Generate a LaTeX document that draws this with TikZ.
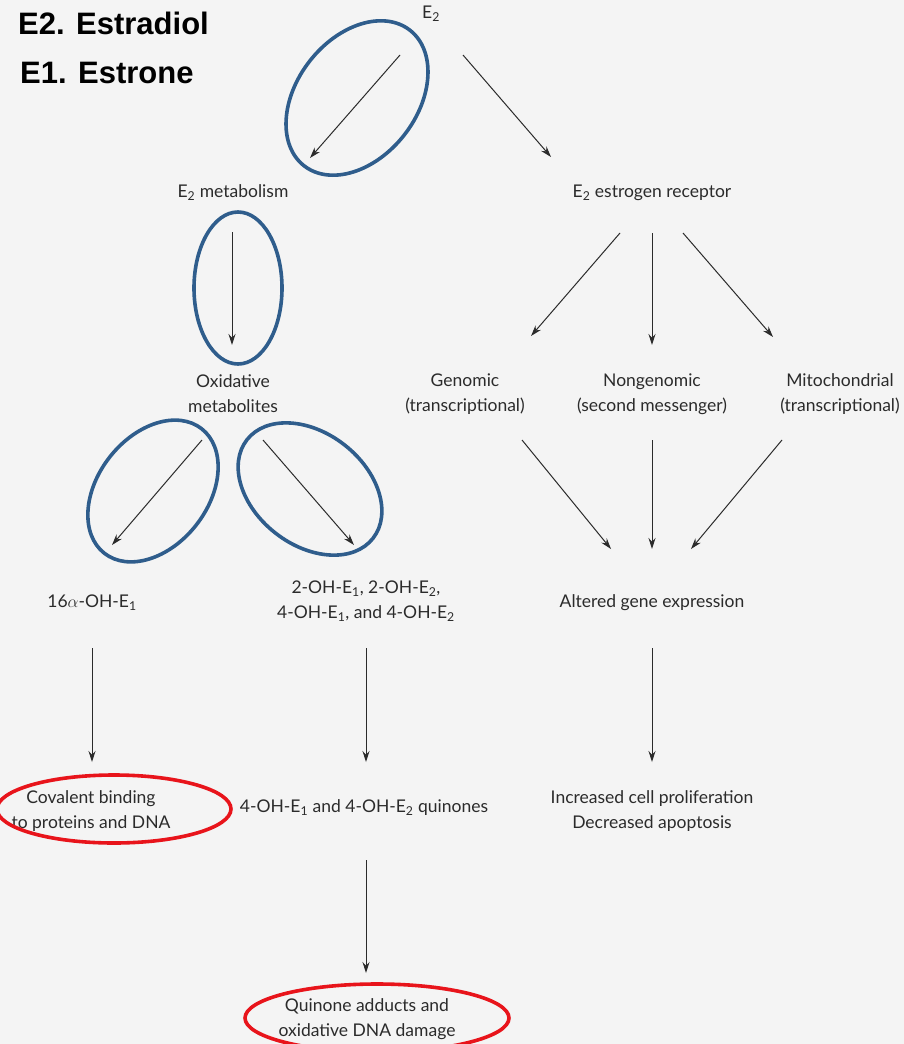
\documentclass[tikz,border=0pt]{standalone}
\usepackage{fontspec}
\setmainfont{Lato}
\newfontfamily\titlefont{Liberation Sans}
\usetikzlibrary{arrows.meta}
\definecolor{bg}{HTML}{F4F4F4}
\definecolor{ovalblue}{HTML}{2F5D8C}
\definecolor{ovalred}{HTML}{E8141B}
\definecolor{txt}{HTML}{2B2B2B}
\begin{document}
\begin{tikzpicture}[x=1pt,y=-1pt,
  lbl/.style={text=txt, font=\fontsize{17.5}{25}\selectfont, align=center, inner sep=0pt},
  ttl/.style={text=black, font=\titlefont\bfseries\fontsize{31}{31}\selectfont, inner sep=0pt, anchor=base west},
  arr/.style={draw=txt, line width=1pt, -{Stealth[length=11pt,width=7pt]}},
  blueoval/.style={draw=ovalblue, line width=3.6pt},
  redoval/.style={draw=ovalred, line width=3.6pt}]
\fill[bg] (0,0) rectangle (904,1044);
\useasboundingbox (0,0) rectangle (904,1044);

% titles
\node[ttl] (t2) at (18,34) {E2. Estradiol};
\node[ttl] (t1) at (20,83) {E1. Estrone};

% text nodes
\node[lbl] (e2) at (431,14) {E\textsubscript{2}};
\node[lbl] (met) at (233,193) {E\textsubscript{2} metabolism};
\node[lbl] (rec) at (652,193) {E\textsubscript{2} estrogen receptor};
\node[lbl] (ox) at (233,394) {Oxidative\\metabolites};
\node[lbl] (gen) at (465,394) {Genomic\\(transcriptional)};
\node[lbl] (nong) at (652,394) {Nongenomic\\(second messenger)};
\node[lbl] (mito) at (840,394) {Mitochondrial\\(transcriptional)};
\node[lbl] (oh16) at (92,603) {16$\alpha$-OH-E\textsubscript{1}};
\node[lbl] (oh24) at (366,601) {2-OH-E\textsubscript{1}, 2-OH-E\textsubscript{2},\\4-OH-E\textsubscript{1}, and 4-OH-E\textsubscript{2}};
\node[lbl] (alt) at (652,603) {Altered gene expression};
\node[lbl] (cov) at (91,811) {Covalent binding\\to proteins and DNA};
\node[lbl] (quin) at (364,808) {4-OH-E\textsubscript{1} and 4-OH-E\textsubscript{2} quinones};
\node[lbl] (prol) at (652,811) {Increased cell proliferation\\Decreased apoptosis};
\node[lbl] (add) at (367,1019) {Quinone adducts and\\oxidative DNA damage};

% arrow end points
\coordinate (s1) at (400,55);  \coordinate (d1) at (310,158);
\coordinate (s2) at (232,232); \coordinate (d2) at (232,345);
\coordinate (s3) at (202,440); \coordinate (d3) at (112,545);
\coordinate (s4) at (263,440); \coordinate (d4) at (354,545);
\coordinate (s5) at (92,648);  \coordinate (d5) at (92,762);
\coordinate (s6) at (366,648); \coordinate (d6) at (366,762);
\coordinate (s7) at (366,860); \coordinate (d7) at (366,973);
\coordinate (s8) at (463,55);  \coordinate (d8) at (551,157);
\coordinate (s9) at (620,233); \coordinate (d9) at (531,336);
\coordinate (s10) at (652,233); \coordinate (d10) at (652,345);
\coordinate (s11) at (683,233); \coordinate (d11) at (773,337);
\coordinate (s12) at (522,440); \coordinate (d12) at (611,549);
\coordinate (s13) at (652,440); \coordinate (d13) at (652,549);
\coordinate (s14) at (782,440); \coordinate (d14) at (691,549);
\coordinate (s15) at (652,648); \coordinate (d15) at (652,762);

\foreach \i in {1,...,15} {\draw[arr] (s\i) -- (d\i);}

% ovals
\draw[blueoval, rotate around={52:(357,98)}] (357,98) ellipse [x radius=86, y radius=60];
\draw[blueoval] (238,288) ellipse [x radius=44, y radius=76];
\draw[blueoval, rotate around={52:(153,491)}] (153,491) ellipse [x radius=79, y radius=55];
\draw[blueoval, rotate around={-38:(310,489)}] (310,489) ellipse [x radius=80, y radius=56];
\draw[redoval] (114,809) ellipse [x radius=117, y radius=34];
\draw[redoval] (377,1018) ellipse [x radius=132, y radius=34];
\end{tikzpicture}
\end{document}
